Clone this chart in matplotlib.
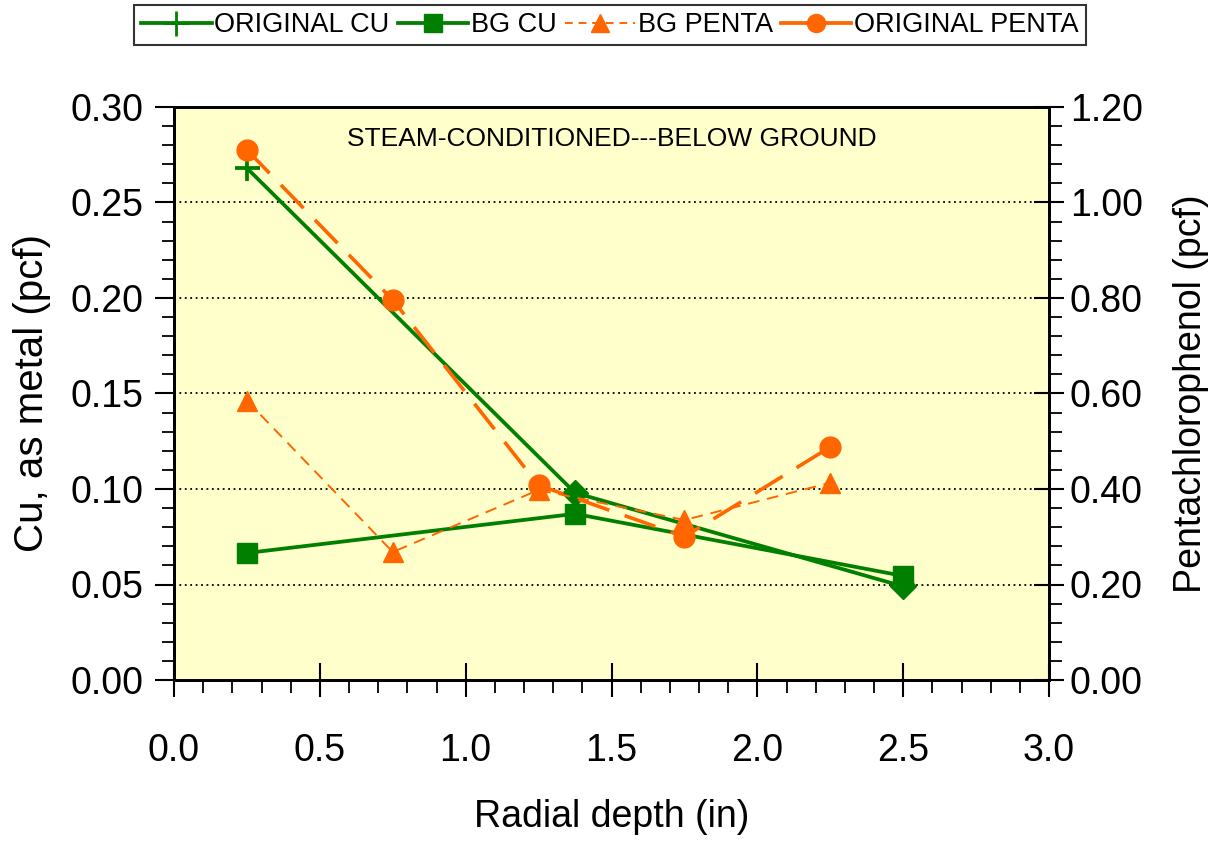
import matplotlib
matplotlib.use("Agg")
import matplotlib.pyplot as plt
from matplotlib.lines import Line2D
from matplotlib.ticker import MultipleLocator, FormatStrFormatter

plt.rcParams['font.family'] = ['Liberation Sans', 'DejaVu Sans']

# Data
orig_cu_x = [0.25, 1.375, 2.5]
orig_cu_y = [0.268, 0.098, 0.049]
bg_cu_x = [0.25, 1.375, 2.5]
bg_cu_y = [0.0665, 0.087, 0.0545]
penta_x = [0.25, 0.75, 1.25, 1.75, 2.25]
bg_penta_y = [0.585, 0.268, 0.398, 0.335, 0.413]
orig_penta_y = [1.110, 0.796, 0.408, 0.300, 0.488]

GREEN = '#007F00'
ORANGE = '#FF6600'
BG = '#FFFFCC'

fig = plt.figure(figsize=(12.23, 8.43), dpi=100)
ax = fig.add_axes([174/1223, 1-680/843, (1049-174)/1223, (680-107)/843])
ax.set_facecolor(BG)
ax2 = ax.twinx()

ax.set_xlim(0, 3.0)
ax.set_ylim(0, 0.30)
ax2.set_ylim(0, 1.20)

# grid
for v in [0.05, 0.10, 0.15, 0.20, 0.25]:
    ax.axhline(v, color='black', lw=1.3, ls=(0, (1, 2)), zorder=1)

# Cu series
ax.plot(orig_cu_x, orig_cu_y, color=GREEN, lw=2.7, zorder=3)
ax.plot(orig_cu_x[:1], orig_cu_y[:1], ls='none', marker='+', ms=18, mew=2.7, color=GREEN, zorder=3)
ax.plot(orig_cu_x[1:], orig_cu_y[1:], ls='none', marker='D', ms=13, color=GREEN, zorder=3)
ax.plot(bg_cu_x, bg_cu_y, color=GREEN, lw=2.7, marker='s', ms=15, zorder=4)

# Penta series
ax2.plot(penta_x, bg_penta_y, color=ORANGE, lw=1.4, ls=(0, (6, 4)), marker='^', ms=15, zorder=3)
ax2.plot(penta_x, orig_penta_y, color=ORANGE, lw=2.6, ls=(0, (9, 4.5)), marker='o', ms=15, zorder=3)

# ticks
ax.xaxis.set_major_locator(MultipleLocator(0.5))
ax.xaxis.set_minor_locator(MultipleLocator(0.1))
ax.xaxis.set_major_formatter(FormatStrFormatter('%.1f'))
ax.yaxis.set_major_locator(MultipleLocator(0.05))
ax.yaxis.set_minor_locator(MultipleLocator(0.01))
ax.yaxis.set_major_formatter(FormatStrFormatter('%.2f'))
ax2.yaxis.set_major_locator(MultipleLocator(0.2))
ax2.yaxis.set_minor_locator(MultipleLocator(0.04))
ax2.yaxis.set_major_formatter(FormatStrFormatter('%.2f'))

ax.tick_params(axis='x', which='major', direction='inout', length=24, width=1.5, labelsize=27, pad=26, top=False)
ax.tick_params(axis='x', which='minor', direction='out', length=9, width=1.3, top=False)
ax.tick_params(axis='y', which='major', direction='out', length=14, width=1.5, labelsize=27, pad=8, right=False)
ax.tick_params(axis='y', which='minor', direction='out', length=9, width=1.3, right=False)
ax2.tick_params(axis='y', which='major', direction='inout', length=22, width=1.5, labelsize=27, pad=4)
ax2.tick_params(axis='y', which='minor', direction='out', length=9, width=1.3)

for a in (ax, ax2):
    for s in a.spines.values():
        s.set_linewidth(2)

ax.set_xlabel('Radial depth (in)', fontsize=27, labelpad=22)
ax.set_ylabel('Cu, as metal (pcf)', fontsize=29, labelpad=14)
ax2.set_ylabel('Pentachlorophenol (pcf)', fontsize=27, labelpad=22)

ax.text(0.5, 0.945, 'STEAM-CONDITIONED---BELOW GROUND', transform=ax.transAxes,
        ha='center', va='center', fontsize=19)

handles = [
    Line2D([], [], color=GREEN, lw=2.7, marker='+', ms=18, mew=2),
    Line2D([], [], color=GREEN, lw=2.7, marker='s', ms=13),
    Line2D([], [], color=ORANGE, lw=1.4, ls=(0, (4, 3)), marker='^', ms=13),
    Line2D([], [], color=ORANGE, lw=2.7, marker='o', ms=13),
]
labels = ['ORIGINAL CU', 'BG CU', 'BG PENTA', 'ORIGINAL PENTA']
leg = fig.legend(handles, labels, loc='center', bbox_to_anchor=(610/1223, 1-25/843), ncol=4,
                 fontsize=19.5, frameon=True, fancybox=False, edgecolor='black',
                 handlelength=2.6, handletextpad=0.1, columnspacing=0.3, borderpad=0.25)
leg.get_frame().set_linewidth(1.5)

fig.savefig('out.png', dpi=100)
